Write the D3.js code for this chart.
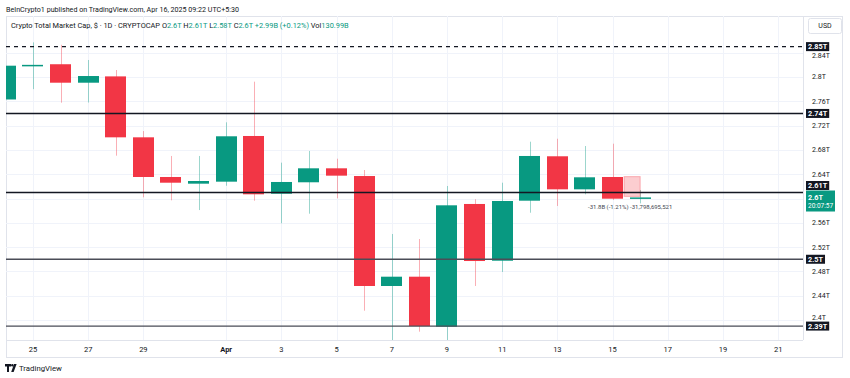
<!DOCTYPE html>
<html><head><meta charset="utf-8">
<script src="https://cdn.jsdelivr.net/npm/d3@7"></script>
<style>
html,body{margin:0;padding:0;background:#fff;}
svg{display:block;font-family:Roboto,"Noto Sans",sans-serif;}
</style></head>
<body>
<svg id="c" width="850" height="378"></svg>
<script>
// ---------- DATA (values in trillions USD) ----------
const dates = ["2025-03-24","2025-03-25","2025-03-26","2025-03-27","2025-03-28","2025-03-29","2025-03-30","2025-03-31",
  "2025-04-01","2025-04-02","2025-04-03","2025-04-04","2025-04-05","2025-04-06","2025-04-07","2025-04-08",
  "2025-04-09","2025-04-10","2025-04-11","2025-04-12","2025-04-13","2025-04-14","2025-04-15","2025-04-16"];
const opens  = [2.763,2.819,2.821,2.7906,2.801,2.7007,2.6354,2.6244,2.6277,2.7029,2.6079,2.6267,2.6497,2.637,2.456,2.4713,2.389,2.591,2.4976,2.5964,2.6695,2.6151,2.6354,2.5995];
const highs  = [2.822,2.857,2.853,2.828,2.8115,2.711,2.670,2.670,2.7254,2.7923,2.659,2.6782,2.6655,2.6469,2.5416,2.5333,2.6206,2.5987,2.626,2.6935,2.6984,2.6864,2.6902,2.614];
const lows   = [2.760,2.780,2.7577,2.758,2.6705,2.602,2.597,2.581,2.621,2.5964,2.5592,2.575,2.6003,2.4153,2.350,2.3808,2.350,2.456,2.479,2.5766,2.5877,2.6069,2.5975,2.592];
const closes = [2.8186,2.820,2.7906,2.8016,2.7007,2.6354,2.626,2.6288,2.7024,2.6069,2.6272,2.6497,2.6376,2.456,2.4713,2.3901,2.5888,2.4971,2.5959,2.670,2.6151,2.6349,2.5997,2.6018];

const yTicks = [2.4,2.44,2.48,2.52,2.56,2.6,2.64,2.68,2.72,2.76,2.8,2.84];
const yTickHidden = [2.6]; // covered by the last-price label in the reference
const xTickDates = ["2025-03-25","2025-03-27","2025-03-29","2025-04-01","2025-04-03","2025-04-05","2025-04-07","2025-04-09",
  "2025-04-11","2025-04-13","2025-04-15","2025-04-17","2025-04-19","2025-04-21"];
const xTickLabels = ["25","27","29","Apr","3","5","7","9","11","13","15","17","19","21"];

const levels = [2.85,2.74,2.61,2.5,2.39];
const levelLabels = ["2.85T","2.74T","2.61T","2.5T","2.39T"];
const levelStyles = ["dash","dark","dark","gray","gray"];

const lastPrice = 2.6, lastLabel = "2.6T", countdown = "20:07:57";
const measureDates = ["2025-04-15T10:00","2025-04-16T00:00"];
const measurePrices = [2.636,2.6035];
const measureText = "-31.8B (-1.21%) -31,798,695,521";

const headerTitle = "BeInCrypto1 published on TradingView.com, Apr 16, 2025 09:22 UTC+5:30";
const legendName = "Crypto Total Market Cap, $ · 1D · CRYPTOCAP";
const legendItems = [["O","2.6T"],["H","2.61T"],["L","2.58T"],["C","2.6T"],["","+2.99B (+0.12%)"],["Vol","130.99B"]];

// ---------- LAYOUT ----------
const L = 6, R = 803, T = 16, B = 340;
const UP = "#089981", DN = "#f23645", INK = "#131722";
const parse = s => new Date(s.length > 10 ? s + "Z" : s + "T00:00Z");

const x = d3.scaleUtc()
  .domain([new Date(Date.UTC(2025,2,24,0,32)), new Date(Date.UTC(2025,3,21,21,36))])
  .range([L, R]);
const y = d3.scaleLinear().domain([2.3671, 2.9004]).range([B, T]);
const dayW = x(parse("2025-03-26")) - x(parse("2025-03-25"));
const bw = dayW * 0.77;

const svg = d3.select("#c");
svg.append("rect").attr("width",850).attr("height",378).attr("fill","#fff");

// frame
svg.append("rect").attr("x",6.5).attr("y",16.5).attr("width",836).attr("height",341)
  .attr("fill","none").attr("stroke","#e0e3eb");

const defs = svg.append("defs");
defs.append("clipPath").attr("id","clip").append("rect").attr("x",L).attr("y",T).attr("width",R-L).attr("height",B-T);

// grid
const grid = svg.append("g").attr("clip-path","url(#clip)");
grid.selectAll(".gy").data(yTicks).join("line")
  .attr("x1",L).attr("x2",R).attr("y1",d=>Math.round(y(d))+0.5).attr("y2",d=>Math.round(y(d))+0.5)
  .attr("stroke","#f0f3fa");
grid.selectAll(".gx").data(xTickDates).join("line")
  .attr("y1",T).attr("y2",B).attr("x1",d=>Math.round(x(parse(d)))+0.5).attr("x2",d=>Math.round(x(parse(d)))+0.5)
  .attr("stroke","#f0f3fa");

// axis separators
svg.append("line").attr("x1",R+0.5).attr("x2",R+0.5).attr("y1",T).attr("y2",B).attr("stroke","#e0e3eb");
svg.append("line").attr("x1",L).attr("x2",R).attr("y1",B+0.5).attr("y2",B+0.5).attr("stroke","#e0e3eb");

// candles
const candles = dates.map((d,i)=>({d:parse(d),o:opens[i],h:highs[i],l:lows[i],c:closes[i]}));
const cg = svg.append("g").attr("clip-path","url(#clip)");
cg.selectAll(".wick").data(candles).join("line")
  .attr("x1",d=>Math.round(x(d.d))+0.5).attr("x2",d=>Math.round(x(d.d))+0.5)
  .attr("y1",d=>y(d.h)).attr("y2",d=>y(d.l))
  .attr("stroke",d=>d.c>=d.o?UP:DN).attr("stroke-opacity",0.4).attr("stroke-width",1);
cg.selectAll(".body").data(candles).join("rect")
  .attr("x",d=>Math.round(x(d.d)-bw/2)).attr("width",Math.round(bw))
  .attr("y",d=>y(Math.max(d.o,d.c)))
  .attr("height",d=>Math.max(1.5,Math.abs(y(d.o)-y(d.c))))
  .attr("fill",d=>d.c>=d.o?UP:DN);

// measure box
cg.append("rect")
  .attr("x",x(parse(measureDates[0]))).attr("width",x(parse(measureDates[1]))-x(parse(measureDates[0])))
  .attr("y",y(measurePrices[0])).attr("height",y(measurePrices[1])-y(measurePrices[0]))
  .attr("fill",DN).attr("fill-opacity",0.25).attr("stroke",DN).attr("stroke-opacity",0.35);

// level lines
const lg = svg.append("g");
levels.forEach((v,i)=>{
  const st = levelStyles[i];
  lg.append("line").attr("x1",L).attr("x2",R).attr("y1",y(v)).attr("y2",y(v))
    .attr("stroke", st==="gray" ? "#4a4d57" : INK)
    .attr("stroke-width", 1.4)
    .attr("stroke-dasharray", st==="dash" ? "4,4" : null);
});

// measure text
svg.append("text").attr("x",x(parse(measureDates[1]))-10).attr("y",y(measurePrices[1])+13)
  .attr("text-anchor","middle").attr("font-size",6).attr("fill","#434651").text(measureText);

// level label positions (2.61T pushed up by the last-price label, as in TradingView)
const labelY = levels.map(v=>y(v));
labelY[2] = y(lastPrice) - 13;

// y axis tick labels, nudged clear of the level labels
const minGap = 9;
const tickPos = d => {
  let p = y(d);
  labelY.forEach(ly => {
    const dd = p - ly;
    if (Math.abs(dd) < minGap) p = ly + (dd >= 0 ? minGap : -minGap);
  });
  return p;
};
svg.selectAll(".yl").data(yTicks.filter(d=>!yTickHidden.includes(d))).join("text")
  .attr("x",812).attr("y",tickPos).attr("dy","0.35em")
  .attr("font-size",7).attr("fill",INK)
  .text(d=>d3.format(".2~f")(d)+"T");

levels.forEach((v,i)=>{
  const g = svg.append("g");
  const t = g.append("text").attr("x",808).attr("y",labelY[i]).attr("dy","0.36em")
    .attr("font-size",7.3).attr("font-weight","bold").attr("fill","#fff").text(levelLabels[i]);
  const w = t.node().getComputedTextLength();
  g.insert("rect","text").attr("x",806).attr("y",labelY[i]-4.5).attr("width",w+4).attr("height",9).attr("fill",INK);
});

// last price box
const lpY = y(lastPrice)-8;
svg.append("rect").attr("x",806).attr("y",lpY).attr("width",29).attr("height",21).attr("fill",UP);
svg.append("text").attr("x",808).attr("y",lpY+6.5).attr("dy","0.35em").attr("font-size",7.3).attr("font-weight","bold").attr("fill","#fff").text(lastLabel);
svg.append("text").attr("x",808).attr("y",lpY+15.5).attr("dy","0.35em").attr("font-size",6.5).attr("fill","#fff").text(countdown);

// USD box
svg.append("rect").attr("x",808.5).attr("y",18.5).attr("width",33).attr("height",15).attr("rx",2)
  .attr("fill","#fff").attr("stroke","#e0e3eb");
svg.append("text").attr("x",825).attr("y",26).attr("dy","0.35em").attr("text-anchor","middle")
  .attr("font-size",7).attr("fill",INK).text("USD");

// x axis labels
svg.selectAll(".xl").data(xTickDates).join("text")
  .attr("x",d=>x(parse(d))).attr("y",349).attr("dy","0.35em").attr("text-anchor","middle")
  .attr("font-size",7.5).attr("fill",INK)
  .attr("font-weight",(d,i)=>xTickLabels[i]==="Apr"?"bold":null)
  .text((d,i)=>xTickLabels[i]);

// header
svg.append("text").attr("x",6).attr("y",9).attr("dy","0.35em").attr("font-size",7.6).attr("fill",INK)
  .attr("textLength",233).attr("lengthAdjust","spacingAndGlyphs").text(headerTitle);
const leg = svg.append("text").attr("x",11).attr("y",25).attr("dy","0.35em").attr("font-size",7.4).attr("fill",INK);
leg.append("tspan").text(legendName + "  ");
legendItems.forEach(([k,v])=>{
  leg.append("tspan").attr("fill",INK).text(k);
  leg.append("tspan").attr("fill",UP).text(v + "  ");
});

// TradingView logo
const logo = svg.append("g").attr("fill",INK);
logo.append("path").attr("d","M5 364h6v2.5h-2v5.5h-2v-5.5h-2z");
logo.append("circle").attr("cx",12.3).attr("cy",365.2).attr("r",1.2);
logo.append("path").attr("d","M14 364h2.6l-3 8h-2.4z");
svg.append("text").attr("x",19).attr("y",368).attr("dy","0.35em").attr("font-size",7.8).attr("fill",INK).text("TradingView");
</script>
</body></html>
